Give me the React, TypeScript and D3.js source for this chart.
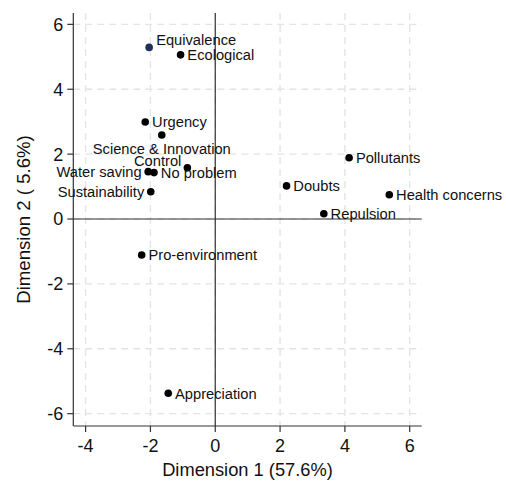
import React from 'react';
import * as d3 from 'd3';

// correspondence analysis coordinates
const labels = [
  'Equivalence', 'Ecological', 'Urgency', 'Science & Innovation', 'Control',
  'Water saving', 'No problem', 'Sustainability', 'Pollutants', 'Doubts',
  'Health concerns', 'Repulsion', 'Pro-environment', 'Appreciation',
];
const dim1 = [-2.04, -1.07, -2.16, -1.65, -0.86, -2.07, -1.89, -1.99, 4.13, 2.2, 5.37, 3.35, -2.27, -1.45];
const dim2 = [5.29, 5.06, 2.99, 2.59, 1.58, 1.46, 1.43, 0.84, 1.89, 1.02, 0.75, 0.16, -1.11, -5.37];
const highlighted = ['Equivalence'];

const xTitle = 'Dimension 1 (57.6%)';
const yTitle = 'Dimension 2 ( 5.6%)';

// marker label placement (clock position), default is 3 o'clock
const labelPos: Record<string, number> = {
  Equivalence: 2,
  'Science & Innovation': 6,
  Control: 10,
  'Water saving': 9,
  Sustainability: 9,
};

const W = 506;
const H = 481;
const left = 73.3, right = 421.7, top = 13, bottom = 426;
const font = '"Liberation Sans", Arial, Helvetica, sans-serif';

export default function App() {
  const x = d3.scaleLinear().domain([-4.38, 6.37]).range([left, right]);
  const y = d3.scaleLinear().domain([-6.38, 6.35]).range([bottom, top]);
  const xt = x.ticks(5);
  const yt = y.ticks(6);

  const labelProps = (name: string, px: number, py: number) => {
    const pos = labelPos[name] ?? 3;
    if (pos === 2) return { x: px + 7, y: py - 2, anchor: 'start', dy: '0' };
    if (pos === 6) return { x: px, y: py + 19, anchor: 'middle', dy: '0' };
    if (pos === 10) return { x: px - 6, y: py - 1.5, anchor: 'end', dy: '0' };
    if (pos === 9) return { x: px - 6.5, y: py, anchor: 'end', dy: '0.36em' };
    return { x: px + 6.8, y: py, anchor: 'start', dy: '0.36em' };
  };

  return (
    <svg width={W} height={H} style={{ position: 'absolute', left: 0, top: 0, background: '#fff' }} fontFamily={font}>
      {/* grid */}
      <g stroke="#e4e4e4" strokeWidth={1.4} strokeDasharray="7 5">
        {xt.map(t => <line key={'gx' + t} x1={x(t)} x2={x(t)} y1={top} y2={bottom} />)}
        {yt.map(t => <line key={'gy' + t} x1={left} x2={right} y1={y(t)} y2={y(t)} />)}
      </g>

      {/* reference lines at zero */}
      <g stroke="#333" strokeWidth={1.2}>
        <line x1={x(0)} x2={x(0)} y1={top} y2={bottom} />
        <line x1={left} x2={right} y1={y(0)} y2={y(0)} />
      </g>

      {/* axes */}
      <g stroke="#333" strokeWidth={1.2}>
        <line x1={left} x2={left} y1={top} y2={bottom} />
        <line x1={left} x2={right} y1={bottom} y2={bottom} />
        {xt.map(t => <line key={'tx' + t} x1={x(t)} x2={x(t)} y1={bottom} y2={bottom + 6} />)}
        {yt.map(t => <line key={'ty' + t} x1={left} x2={left - 6} y1={y(t)} y2={y(t)} />)}
      </g>
      <g fontSize={18} fill="#111">
        {xt.map(t => (
          <text key={'lx' + t} x={x(t)} y={bottom + 26} textAnchor="middle">{String(t)}</text>
        ))}
        {yt.map(t => (
          <text key={'ly' + t} x={left - 10} y={y(t)} dy="0.36em" textAnchor="end">{String(t)}</text>
        ))}
      </g>

      <text x={(left + right) / 2} y={476} textAnchor="middle" fontSize={18.3} fill="#111">{xTitle}</text>
      <text transform={`translate(30,${(top + bottom) / 2}) rotate(-90)`} textAnchor="middle" fontSize={18.6} fill="#111">{yTitle}</text>

      {/* points and labels */}
      {labels.map((name, i) => {
        const px = x(dim1[i]);
        const py = y(dim2[i]);
        const lp = labelProps(name, px, py);
        return (
          <g key={name}>
            <circle cx={px} cy={py} r={3.8} fill={highlighted.includes(name) ? '#1f2f57' : '#000'} />
            <text x={lp.x} y={lp.y} dy={lp.dy} textAnchor={lp.anchor} fontSize={14.7} fill="#111">{name}</text>
          </g>
        );
      })}
    </svg>
  );
}
